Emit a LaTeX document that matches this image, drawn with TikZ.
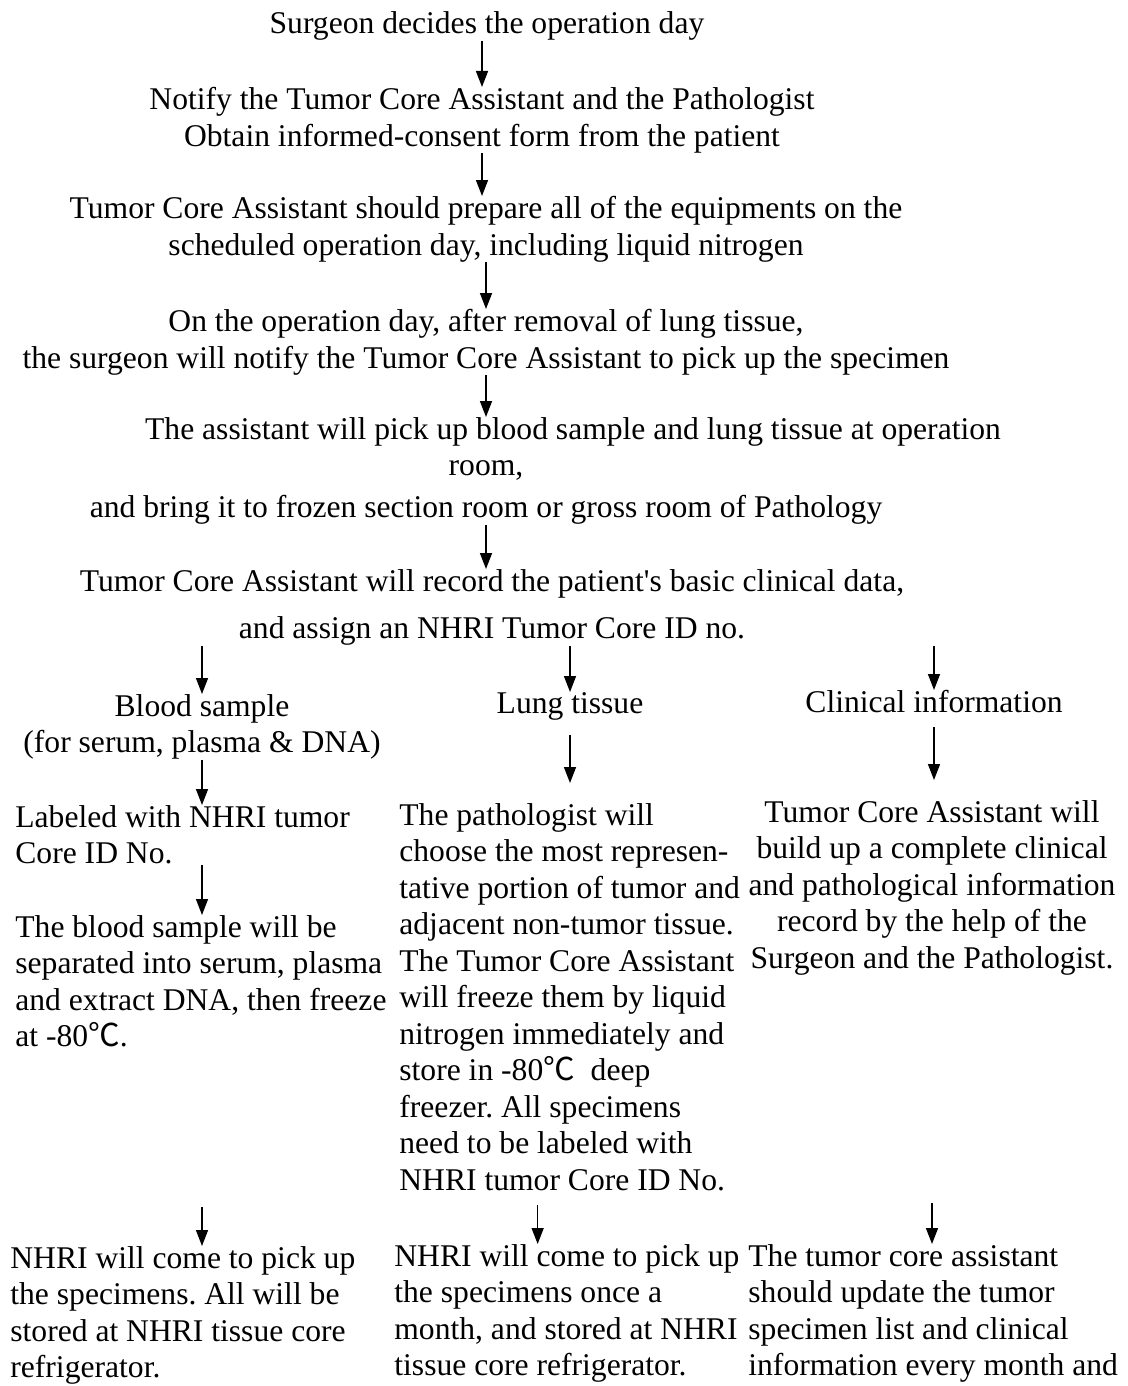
\documentclass[tikz,border=0pt]{standalone}
\usepackage{fontspec}
\setmainfont{Liberation Serif}
\newfontfamily\cjkfont{Noto Sans CJK SC}
\usetikzlibrary{arrows.meta}
\newcommand{\degC}{{\cjkfont ℃}}
\frenchspacing

\begin{document}
\begin{tikzpicture}[x=0.5pt,y=-0.5pt,
  every node/.style={inner sep=0pt,font=\fontsize{15.8}{18.25}\selectfont},
  stepnode/.style={anchor=north,align=center},
  colnode/.style={anchor=north west,align=left},
  flow/.style={line width=0.75pt,-{Triangle[width=6pt,length=8pt]}}]

\useasboundingbox (0,0) rectangle (1128,1386);

% main chain
\node[stepnode] (decide) at (487,11) {Surgeon decides the operation day};
\node[stepnode] (notify) at (482,87) {Notify the Tumor Core Assistant and the Pathologist\\
  Obtain informed-consent form from the patient};
\node[stepnode] (prepare) at (486,196) {Tumor Core Assistant should prepare all of the equipments on the\\
  scheduled operation day, including liquid nitrogen};
\node[stepnode] (removal) at (486,309) {On the operation day, after removal of lung tissue,\\
  the surgeon will notify the Tumor Core Assistant to pick up the specimen};
\node[stepnode] (pickup) at (486,417) {\hspace*{87pt}The assistant will pick up blood sample and lung tissue at operation\\
  room,\\[2.5pt]
  and bring it to frozen section room or gross room of Pathology};
\node[stepnode] (record) at (492,569) {Tumor Core Assistant will record the patient\textquotesingle s basic clinical data,\\[5.5pt]
  and assign an NHRI Tumor Core ID no.};

% three branches
\node[stepnode] (blood) at (202,694) {Blood sample\\(for serum, plasma \& DNA)};
\node[stepnode] (lung) at (570,692) {Lung tissue};
\node[stepnode] (clinic) at (934,690) {Clinical information};

\node[colnode] (label) at (15,805) {Labeled with NHRI tumor\\Core ID No.};
\node[colnode] (separate) at (15,915) {The blood sample will be\\
  separated into serum, plasma\\
  and extract DNA, then freeze\\
  at -80\degC.};
\node[colnode] (choose) at (399,803) {The pathologist will\\
  choose the most represen-\\
  tative portion of tumor and\\
  adjacent non-tumor tissue.\\
  The Tumor Core Assistant\\
  will freeze them by liquid\\
  nitrogen immediately and\\
  store in -80\degC\ \ deep\\
  freezer. All specimens\\
  need to be labeled with\\
  NHRI tumor Core ID No.};
\node[stepnode] (build) at (932,800) {Tumor Core Assistant will\\
  build up a complete clinical\\
  and pathological information\\
  record by the help of the\\
  Surgeon and the Pathologist.};

\node[colnode] (store1) at (10,1246) {NHRI will come to pick up\\
  the specimens. All will be\\
  stored at NHRI tissue core\\
  refrigerator.};
\node[colnode] (store2) at (394,1244) {NHRI will come to pick up\\
  the specimens once a\\
  month, and stored at NHRI\\
  tissue core refrigerator.};
\node[colnode] (update) at (748,1244) {The tumor core assistant\\
  should update the tumor\\
  specimen list and clinical\\
  information every month and};

% connectors
\draw[flow] (decide.south -| notify.north) -- (notify.north);
\draw[flow] (notify.south) -- (notify.south |- prepare.north);
\draw[flow] (prepare.south -| removal.north) -- (removal.north);
\draw[flow] (removal.south) -- (pickup.north);
\draw[flow] (pickup.south) -- (pickup.south |- record.north);
\draw[flow] (record.south -| blood.north) -- (blood.north);
\draw[flow] (record.south -| lung.north) -- (lung.north);
\draw[flow] (record.south -| clinic.north) -- (clinic.north);
\draw[flow] (blood.south) -- (blood.south |- label.north);
\draw[flow, shorten <=7pt, shorten >=10pt] (lung.south) -- (lung.south |- choose.north);
\draw[flow, shorten <=7pt, shorten >=10pt] (clinic.south) -- (clinic.south |- build.north);
\draw[flow] (label.south -| blood.south) -- (separate.north -| blood.south);
\draw[flow, shorten <=8pt] (choose.south -| blood.south) -- (store1.north -| blood.south);
\draw[flow, shorten <=7pt] ([xshift=-16pt]choose.south) -- ([xshift=-16pt]choose.south |- store2.north);
\draw[flow, shorten <=6pt] (choose.south -| build.south) -- (update.north -| build.south);

\end{tikzpicture}
\end{document}
